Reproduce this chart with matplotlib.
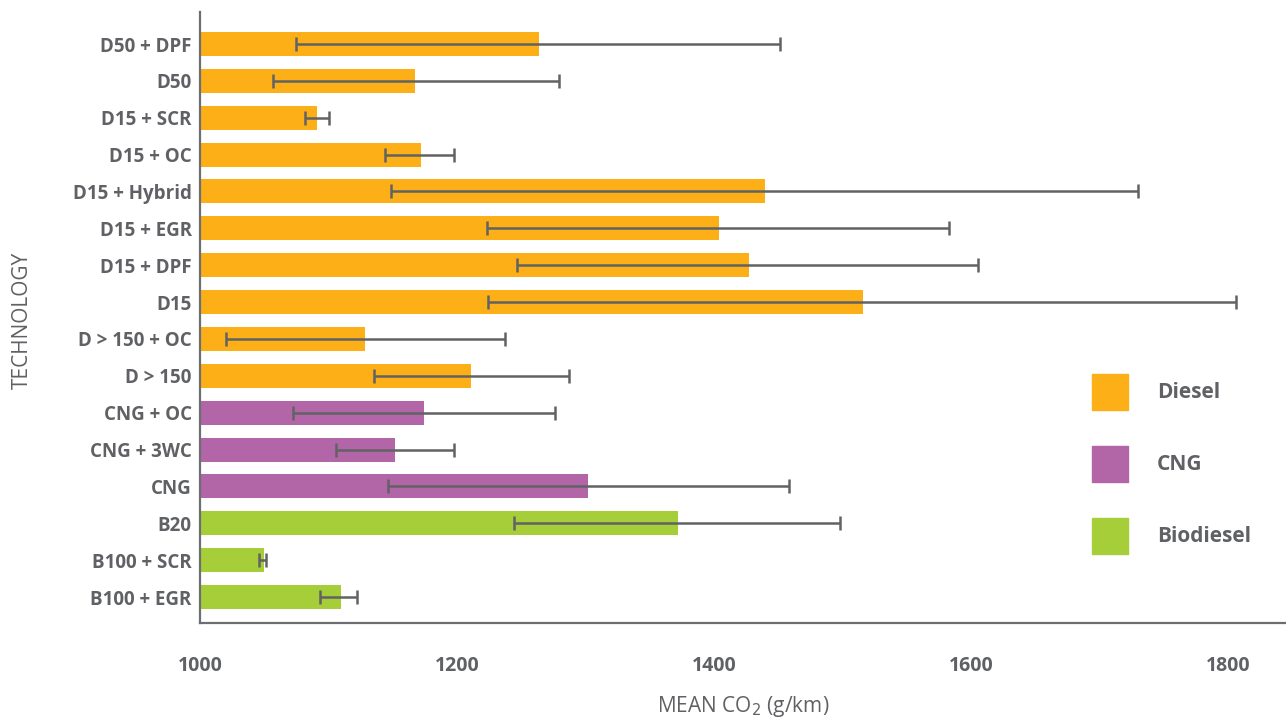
import matplotlib
matplotlib.use('Agg')
import matplotlib.pyplot as plt
from matplotlib.patches import Rectangle

plt.rcParams['font.family'] = ['Open Sans', 'DejaVu Sans']

# data (top to bottom)
labels = ['D50 + DPF', 'D50', 'D15 + SCR', 'D15 + OC', 'D15 + Hybrid', 'D15 + EGR',
          'D15 + DPF', 'D15', 'D > 150 + OC', 'D > 150', 'CNG + OC', 'CNG + 3WC',
          'CNG', 'B20', 'B100 + SCR', 'B100 + EGR']
fuel = ['Diesel'] * 10 + ['CNG'] * 3 + ['Biodiesel'] * 3
mean_co2 = [1264, 1167, 1091, 1172, 1440, 1404, 1427, 1516, 1128, 1211,
            1174, 1152, 1302, 1372, 1050, 1110]
err_lo = [189, 110, 9, 28, 291, 181, 180, 292, 108, 76,
          102, 46, 156, 128, 4, 17]
err_hi = [187, 112, 9, 26, 290, 179, 178, 290, 109, 76,
          102, 46, 156, 126, 1, 12]
fuel_names = ['Diesel', 'CNG', 'Biodiesel']
fuel_colors = {'Diesel': '#fcaf17', 'CNG': '#b266a8', 'Biodiesel': '#a6ce39'}

txt = '#606164'
axc = '#6d6e71'

fig = plt.figure(figsize=(12.86, 7.21), dpi=100)
ax = fig.add_axes([200/1286, 1-623/721, 1-200/1286, (623-12)/721])

ypos = list(range(len(labels)))
ax.barh(ypos, [m - 1000 for m in mean_co2], left=1000, height=0.65,
        color=[fuel_colors[f] for f in fuel], zorder=2)
ax.errorbar(mean_co2, ypos, xerr=[err_lo, err_hi], fmt='none', ecolor='#616264',
            elinewidth=1.8, capsize=5, capthick=1.8, zorder=3)

ax.set_xlim(1000, 1845)
ax.set_ylim(15.705, -0.868)
ax.set_xticks([1000, 1200, 1400, 1600, 1800])
ax.set_yticks(ypos)
ax.set_yticklabels(labels)
ax.tick_params(axis='both', length=0, labelcolor=txt, labelsize=14)
ax.tick_params(axis='y', labelsize=13.5, pad=6)
ax.tick_params(axis='x', pad=24)
for lab in ax.get_xticklabels() + ax.get_yticklabels():
    lab.set_fontweight('bold')

for s in ['top', 'right']:
    ax.spines[s].set_visible(False)
for s in ['left', 'bottom']:
    ax.spines[s].set_color(axc)
    ax.spines[s].set_linewidth(1.6)

ax.set_xlabel(r'MEAN CO$_2$ (g/km)', color=txt, fontsize=15, labelpad=13)
fig.text(22/1286, 1-320/721, 'TECHNOLOGY', rotation=90, color=txt, fontsize=15,
         ha='center', va='center')

# legend
for i, name in enumerate(fuel_names):
    ytop = 374 + i * 72
    fig.add_artist(Rectangle((1092/1286, 1-(ytop+36)/721), 36/1286, 36/721,
                             transform=fig.transFigure, color=fuel_colors[name]))
    fig.text(1157/1286, 1-(ytop+18)/721, name, color=txt, fontsize=15,
             fontweight='bold', va='center', ha='left')

fig.savefig('out.png', dpi=100)
